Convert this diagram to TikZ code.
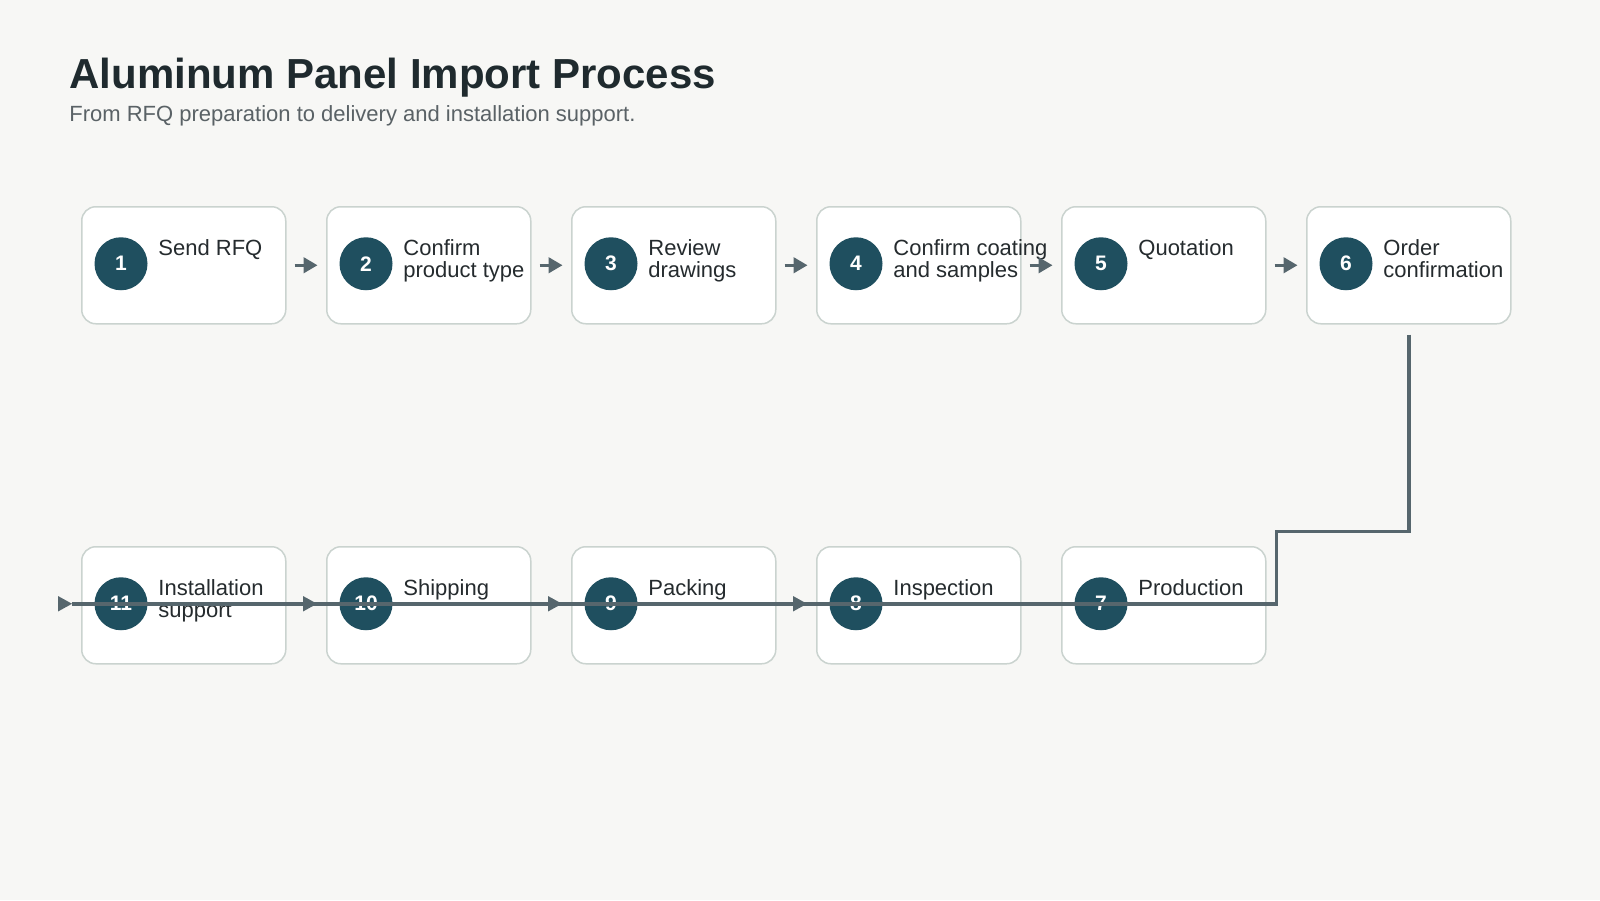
\documentclass[tikz,border=0pt]{standalone}
\usepackage{fontspec}
\setmainfont{Liberation Sans}
\usetikzlibrary{arrows.meta,calc}
\definecolor{bgc}{HTML}{F7F7F5}
\definecolor{boxc}{HTML}{CAD3CF}
\definecolor{circc}{HTML}{1F4F5F}
\definecolor{arrowc}{HTML}{56666D}
\definecolor{titlec}{HTML}{1F2A2E}
\definecolor{labelc}{HTML}{252B2E}
\definecolor{subc}{HTML}{5A6266}
\begin{document}
\begin{tikzpicture}[x=0.5pt,y=-0.5pt,
  stepbox/.style={draw=boxc, line width=0.75pt, fill=white, rounded corners=7pt,
    minimum width=102pt, minimum height=58.5pt, inner sep=0pt, anchor=north west},
  num/.style={circle, fill=circc, minimum size=26.5pt, inner sep=0pt, text=white,
    font=\fontsize{10.5}{12}\selectfont\bfseries},
  lbl/.style={anchor=base west, align=left, inner sep=0pt, text=labelc,
    font=\fontsize{11}{11.25}\selectfont},
  flow/.style={draw=arrowc, line width=1.5pt, -{Triangle[length=7pt,width=7.75pt]}},
  wire/.style={draw=arrowc, line width=1.75pt},
  head/.style={fill=arrowc}
]
\useasboundingbox[fill=bgc] (0,0) rectangle (1600,900);

\node[anchor=base west, inner sep=0pt, text=titlec, font=\fontsize{21}{25}\selectfont\bfseries] (title) at (69,88) {Aluminum Panel Import Process};
\node[anchor=base west, inner sep=0pt, text=subc, font=\fontsize{11}{13}\selectfont] (sub) at (69,121) {From RFQ preparation to delivery and installation support.};

% top row
\node[stepbox] (n1) at (81,206) {};
\node[stepbox] (n2) at (326,206) {};
\node[stepbox] (n3) at (571,206) {};
\node[stepbox] (n4) at (816,206) {};
\node[stepbox] (n5) at (1061,206) {};
\node[stepbox] (n6) at (1306,206) {};
% bottom row
\node[stepbox] (n7) at (1061,546) {};
\node[stepbox] (n8) at (816,546) {};
\node[stepbox] (n9) at (571,546) {};
\node[stepbox] (n10) at (326,546) {};
\node[stepbox] (n11) at (81,546) {};

\foreach \i in {1,...,11}{
  \node[num] (c\i) at ($(n\i.west)+(40,-1.5)$) {\i};
}

% one-line labels: base = first baseline; two-line labels: base = last baseline
\node[lbl] (t1) at ($(n1.north west)+(77,49)$) {Send RFQ};
\node[lbl] (t2) at ($(n2.north west)+(77,71.5)$) {Confirm\\product type};
\node[lbl] (t3) at ($(n3.north west)+(77,71.5)$) {Review\\drawings};
\node[lbl] (t4) at ($(n4.north west)+(77,71.5)$) {Confirm coating\\and samples};
\node[lbl] (t5) at ($(n5.north west)+(77,49)$) {Quotation};
\node[lbl] (t6) at ($(n6.north west)+(77,71.5)$) {Order\\confirmation};
\node[lbl] (t7) at ($(n7.north west)+(77,49)$) {Production};
\node[lbl] (t8) at ($(n8.north west)+(77,49)$) {Inspection};
\node[lbl] (t9) at ($(n9.north west)+(77,49)$) {Packing};
\node[lbl] (t10) at ($(n10.north west)+(77,49)$) {Shipping};
\node[lbl] (t11) at ($(n11.north west)+(77,71.5)$) {Installation\\support};

% top row arrows
\draw[flow] ($(n1.east)+(8,0)$) -- ($(n2.west)+(-8.5,0)$);
\draw[flow] ($(n2.east)+(8,0)$) -- ($(n3.west)+(-8.5,0)$);
\draw[flow] ($(n3.east)+(8,0)$) -- ($(n4.west)+(-8.5,0)$);
\draw[flow] ($(n4.east)+(8,0)$) -- ($(n5.west)+(-8.5,0)$);
\draw[flow] ($(n5.east)+(8,0)$) -- ($(n6.west)+(-8.5,0)$);

% snake connector
\coordinate (j1) at ($(n7.north east)+(10,-14.5)$);
\coordinate (endL) at ($(n11.west)+(-9,-1.5)$);
\draw[wire] ($(n6.south)+(0,10)$) |- (j1) |- (endL);

% right-pointing heads along the bottom line
\foreach \k in {8,9,10,11}{
  \fill[head] ($(n\k.west)+(-9,-1.5)$) -- ++(-14,-7.75) -- ++(0,15.5) -- cycle;
}
\end{tikzpicture}
\end{document}
